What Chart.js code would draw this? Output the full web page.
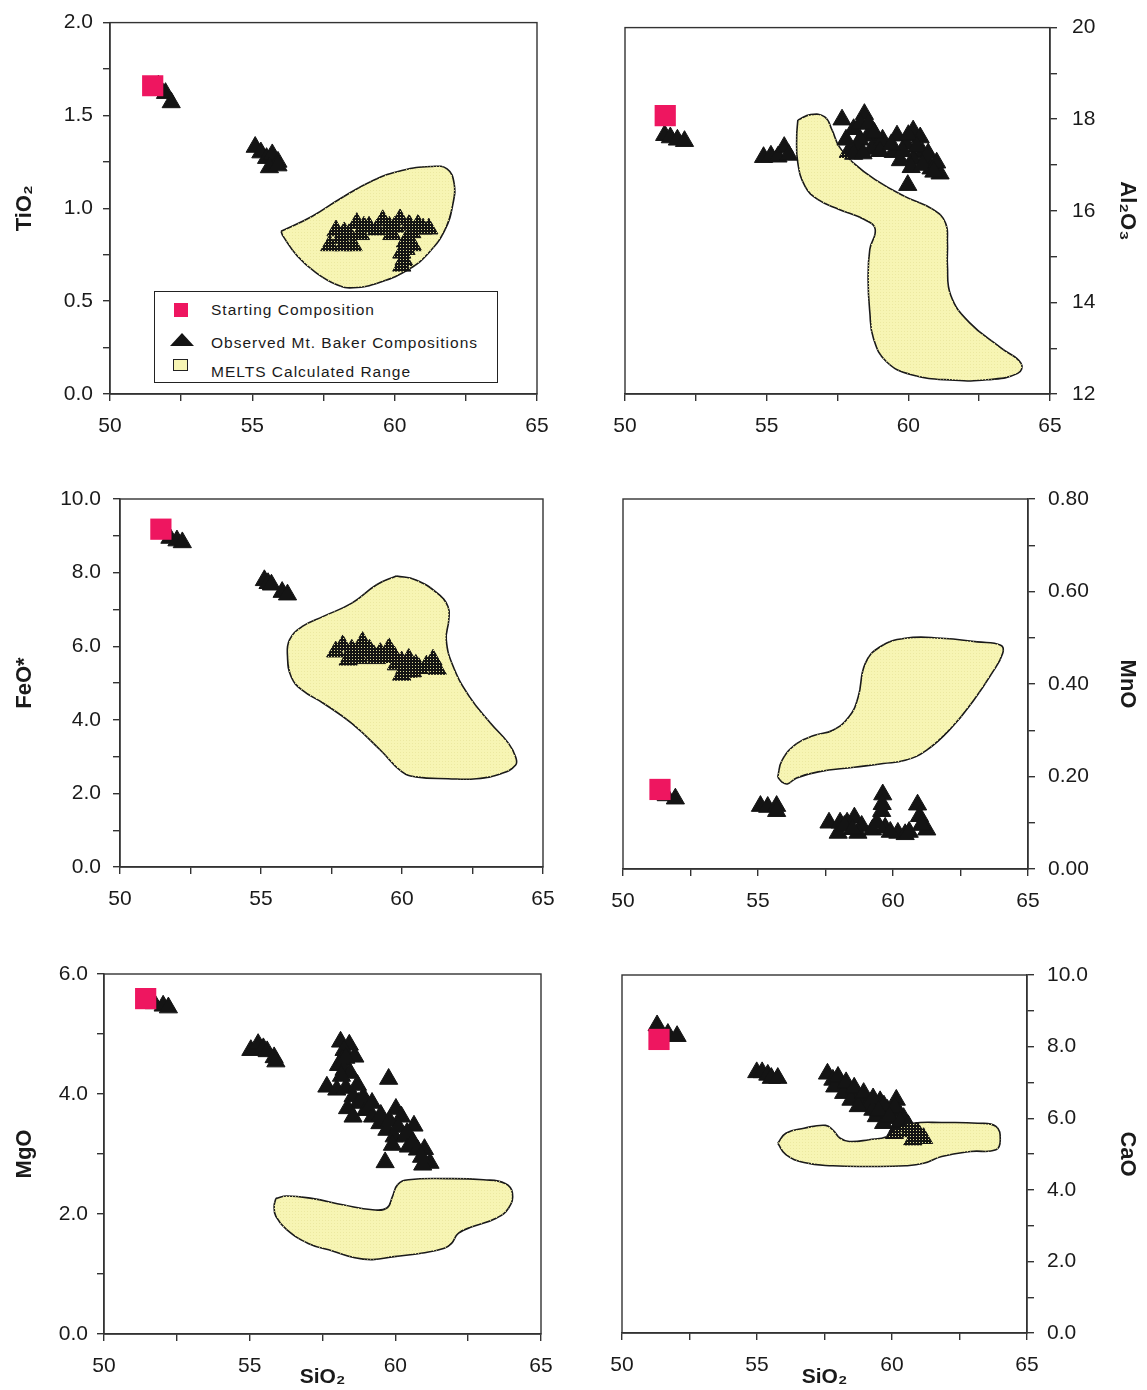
<!DOCTYPE html>
<html>
<head>
<meta charset="utf-8">
<script src="https://cdn.jsdelivr.net/npm/chart.js@4.4.0/dist/chart.umd.min.js"></script>
<style>
  html, body { margin: 0; padding: 0; background: #fff; }
  #page { position: relative; width: 1147px; height: 1390px; overflow: hidden;
          font-family: "Liberation Sans", Arial, sans-serif; color: #1a1a1a; }
  #page canvas { position: absolute; }
  #legend { position: absolute; left: 154px; top: 291px; width: 342px; height: 90px;
            border: 1.6px solid #222; background: #fff; }
  #legend .sym { position: absolute; }
  #legend .txt { position: absolute; left: 56px; font-size: 15.5px; letter-spacing: 1px; line-height: 18px; white-space: nowrap; }
</style>
</head>
<body>
<div id="page">
  <canvas id="tio2"  width="573" height="463" style="left:0;top:0"></canvas>
  <canvas id="al2o3" width="574" height="463" style="left:573px;top:0"></canvas>
  <canvas id="feo"   width="573" height="477" style="left:0;top:463px"></canvas>
  <canvas id="mno"   width="574" height="477" style="left:573px;top:463px"></canvas>
  <canvas id="mgo"   width="573" height="450" style="left:0;top:940px"></canvas>
  <canvas id="cao"   width="574" height="450" style="left:573px;top:940px"></canvas>

  <div id="legend">
    <div class="sym" style="left:19px;top:11px;width:14px;height:14px;background:#ee1660"></div>
    <div class="txt" style="top:9px">Starting Composition</div>
    <div class="sym" style="left:15px;top:41px;width:24px;height:13px;background:#141414;clip-path:polygon(50% 0,100% 100%,0 100%)"></div>
    <div class="txt" style="top:42px">Observed Mt. Baker Compositions</div>
    <div class="sym" style="left:18px;top:67px;width:13px;height:10px;border:1.5px solid #222;background:#f7f5b4"></div>
    <div class="txt" style="top:71px">MELTS Calculated Range</div>
  </div>
</div>

<script>
// SiO2 (wt%) on every x axis
const sio2Min = 50, sio2Max = 65, sio2Step = 2.5;

// TiO2
const tio2Start = [[51.5, 1.66]];
const tio2Observed = [
  [51.7, 1.66], [51.95, 1.62], [52.15, 1.57],
  [55.1, 1.33], [55.3, 1.30], [55.5, 1.27], [55.7, 1.29], [55.9, 1.25], [55.6, 1.22], [55.9, 1.23],
  [57.94, 0.88], [58.23, 0.87], [58.67, 0.92], [58.92, 0.90], [57.72, 0.80], [58.54, 0.80],
  [59.58, 0.935], [59.81, 0.90], [60.19, 0.94], [60.51, 0.91], [60.82, 0.91], [61.2, 0.89],
  [59.37, 0.885], [60.38, 0.82], [60.63, 0.80], [60.25, 0.76], [60.32, 0.72], [60.25, 0.69],
  [58.1, 0.84], [58.4, 0.86], [58.8, 0.86], [59.1, 0.90], [59.9, 0.86], [60.0, 0.90],
  [60.6, 0.87], [61.0, 0.89], [60.4, 0.78], [58.2, 0.80]
];
const tio2Melts = [
  [56.01, 0.876], [57.09, 0.956], [58.10, 1.053], [59.24, 1.150], [60.25, 1.204], [61.27, 1.225],
  [61.84, 1.212], [62.09, 1.133], [62.05, 1.027], [61.77, 0.885], [61.20, 0.761], [60.51, 0.673],
  [59.49, 0.602], [58.54, 0.572], [57.97, 0.588], [57.22, 0.655], [56.58, 0.743], [56.08, 0.850]
];

// Al2O3
const al2o3Start = [[51.42, 18.08]];
const al2o3Observed = [
  [51.4, 17.65], [51.6, 17.6], [51.85, 17.55], [52.1, 17.52],
  [54.89, 17.17], [55.15, 17.2], [55.4, 17.18], [55.62, 17.39], [55.78, 17.22],
  [57.66, 17.99], [58.45, 18.11], [58.07, 17.78], [58.58, 17.64], [58.96, 17.49], [58.2, 17.42],
  [57.88, 17.28], [58.71, 17.35], [59.6, 17.64], [60.17, 17.75], [60.42, 17.6], [59.92, 17.46],
  [59.47, 17.28], [60.49, 17.28], [60.17, 17.13], [59.72, 17.1], [60.68, 17.03], [61.12, 16.81],
  [60.8, 16.92], [59.98, 16.56], [59.09, 17.55], [58.07, 17.24],
  [58.3, 17.9], [58.6, 17.9], [58.3, 17.55], [58.8, 17.7], [59.0, 17.3], [58.4, 17.25],
  [57.8, 17.55], [60.0, 17.65], [60.3, 17.4], [60.7, 17.25], [59.8, 17.3], [60.1, 16.95],
  [60.5, 17.0], [61.0, 17.05], [59.4, 17.45], [60.9, 16.85]
];
const al2o3Melts = [
  [56.10, 17.98], [56.55, 18.10], [57.05, 18.05], [57.31, 17.76], [57.56, 17.40], [58.07, 17.04],
  [58.83, 16.68], [59.85, 16.32], [60.87, 16.03], [61.31, 15.74], [61.38, 15.31], [61.38, 14.80],
  [61.50, 14.15], [62.14, 13.57], [63.28, 13.00], [63.98, 12.67], [63.86, 12.45], [62.77, 12.31],
  [61.63, 12.30], [60.11, 12.42], [59.22, 12.71], [58.77, 13.21], [58.64, 13.79], [58.58, 14.51],
  [58.64, 15.16], [58.83, 15.60], [58.45, 15.81], [57.56, 16.03], [56.80, 16.25], [56.36, 16.53],
  [56.10, 17.04], [56.06, 17.62]
];

// FeO*
const feoStart = [[51.45, 9.18]];
const feoObserved = [
  [51.77, 8.94], [52.02, 8.87], [52.21, 8.82],
  [55.12, 7.79], [55.25, 7.71], [55.37, 7.67], [55.75, 7.47], [55.94, 7.40],
  [57.65, 5.85], [57.9, 6.02], [58.22, 5.90], [58.6, 6.11], [58.85, 5.90], [58.09, 5.63],
  [58.47, 5.67], [59.23, 5.81], [59.54, 5.94], [59.73, 5.72], [59.99, 5.58], [60.24, 5.65],
  [60.49, 5.49], [60.87, 5.47], [61.25, 5.38], [59.99, 5.22], [60.37, 5.31], [59.1, 5.67], [61.1, 5.63],
  [58.3, 5.8], [58.6, 5.85], [59.0, 5.75], [59.4, 5.7], [59.8, 5.5], [60.1, 5.4], [60.6, 5.4], [60.2, 5.3]
];
const feoMelts = [
  [59.80, 7.91], [60.49, 7.80], [61.25, 7.44], [61.63, 7.08], [61.66, 6.72], [61.57, 6.17],
  [61.82, 5.44], [62.39, 4.63], [63.15, 3.90], [63.78, 3.36], [64.03, 2.99], [64.03, 2.77],
  [63.53, 2.54], [62.64, 2.40], [61.63, 2.40], [60.49, 2.45], [59.99, 2.59], [59.23, 3.18],
  [58.22, 3.90], [57.21, 4.45], [56.45, 4.81], [56.07, 5.17], [55.94, 5.72], [56.01, 6.17],
  [56.45, 6.53], [57.21, 6.81], [58.22, 7.17], [59.10, 7.67]
];

// MnO
const mnoStart = [[51.37, 0.172]];
const mnoObserved = [
  [51.6, 0.159], [51.94, 0.152],
  [55.09, 0.136], [55.36, 0.134], [55.69, 0.136], [55.69, 0.125],
  [59.62, 0.161], [59.58, 0.125], [58.57, 0.111], [57.63, 0.100], [58.04, 0.100], [58.3, 0.100],
  [58.84, 0.093], [59.24, 0.085], [59.71, 0.089], [60.18, 0.078], [60.45, 0.075], [60.91, 0.139],
  [60.98, 0.114], [61.25, 0.085], [57.97, 0.078], [58.7, 0.078],
  [58.2, 0.093], [58.5, 0.086], [59.4, 0.10], [59.9, 0.08], [60.6, 0.08], [61.05, 0.095], [59.6, 0.14]
];
const mnoMelts = [
  [55.73, 0.199], [55.89, 0.235], [56.43, 0.271], [57.10, 0.289], [57.77, 0.300], [58.37, 0.329],
  [58.71, 0.372], [58.97, 0.444], [59.51, 0.480], [60.45, 0.499], [61.79, 0.499], [63.12, 0.491],
  [63.99, 0.484], [64.06, 0.466], [63.66, 0.423], [62.99, 0.365], [62.19, 0.307], [61.25, 0.257],
  [60.45, 0.235], [59.64, 0.228], [58.57, 0.220], [57.23, 0.210], [56.43, 0.197], [56.09, 0.184],
  [55.89, 0.188]
];

// MgO
const mgoStart = [[51.43, 5.59]];
const mgoObserved = [
  [51.72, 5.51], [52.03, 5.47], [52.21, 5.44],
  [55.04, 4.73], [55.29, 4.83], [55.47, 4.76], [55.6, 4.71], [55.84, 4.61], [55.9, 4.54],
  [58.12, 4.87], [58.42, 4.82], [58.24, 4.73], [58.61, 4.62], [58.18, 4.57], [58.05, 4.48],
  [58.24, 4.40], [59.77, 4.25], [57.65, 4.12], [57.99, 4.07], [58.3, 4.10], [58.55, 3.96],
  [58.73, 3.85], [58.36, 3.76], [58.98, 3.73], [58.55, 3.62], [59.22, 3.62], [59.47, 3.51],
  [60.02, 3.75], [60.21, 3.62], [59.71, 3.40], [59.96, 3.29], [60.33, 3.29], [60.64, 3.47],
  [60.45, 3.12], [60.76, 3.07], [61.0, 3.08], [61.19, 2.85], [60.94, 2.82], [59.65, 2.86],
  [58.3, 4.6], [58.45, 4.35], [58.7, 4.15], [58.9, 3.95], [59.2, 3.85], [59.5, 3.65],
  [59.8, 3.55], [60.1, 3.45], [60.4, 3.35], [60.6, 3.2], [60.9, 2.95], [58.15, 4.3], [59.9, 3.15]
];
const mgoMelts = [
  [55.90, 2.26], [56.27, 2.30], [57.13, 2.26], [58.24, 2.15], [59.22, 2.07], [59.71, 2.10],
  [59.90, 2.29], [60.08, 2.49], [60.45, 2.57], [61.80, 2.59], [63.03, 2.57], [63.77, 2.51],
  [64.02, 2.35], [63.89, 2.10], [63.46, 1.93], [62.66, 1.79], [62.17, 1.68], [61.93, 1.51],
  [61.68, 1.43], [60.94, 1.35], [59.96, 1.29], [59.22, 1.24], [58.61, 1.27], [57.87, 1.38],
  [57.01, 1.51], [56.27, 1.74], [55.90, 1.96], [55.84, 2.13]
];

// CaO
const caoStart = [[51.37, 8.20]];
const caoObserved = [
  [51.3, 8.59], [51.7, 8.35], [52.04, 8.29],
  [54.99, 7.28], [55.19, 7.28], [55.4, 7.21], [55.53, 7.12], [55.77, 7.12],
  [57.61, 7.24], [57.81, 7.07], [58.08, 6.98], [57.88, 6.88], [58.35, 6.88], [58.21, 6.70],
  [58.62, 6.70], [58.48, 6.51], [58.89, 6.56], [59.09, 6.37], [58.75, 6.33], [59.56, 6.47],
  [59.29, 6.23], [60.16, 6.51], [59.83, 6.23], [60.23, 6.19], [59.42, 6.05], [59.96, 6.00],
  [60.43, 6.00], [59.69, 5.86], [60.23, 5.77], [60.63, 5.63], [60.97, 5.58], [61.17, 5.44],
  [60.77, 5.40], [60.09, 5.58],
  [58.0, 7.15], [58.3, 7.0], [58.6, 6.85], [58.95, 6.7], [59.3, 6.55], [59.7, 6.35],
  [60.1, 6.3], [59.5, 6.2], [59.9, 6.05], [60.3, 5.9], [60.6, 5.8], [60.9, 5.6]
];
const caoMelts = [
  [55.77, 5.30], [56.07, 5.58], [56.74, 5.72], [57.54, 5.80], [57.81, 5.67], [58.08, 5.44],
  [58.42, 5.35], [59.15, 5.40], [59.83, 5.49], [60.23, 5.72], [60.77, 5.86], [61.84, 5.88],
  [63.18, 5.86], [63.85, 5.77], [64.01, 5.40], [63.85, 5.12], [62.91, 5.07], [61.84, 4.93],
  [61.17, 4.74], [60.50, 4.67], [59.15, 4.65], [57.81, 4.67], [56.74, 4.76], [56.07, 4.98]
];

const ink = '#1a1a1a';
const axisColor = '#333';
const pink = '#ee1660';
const yellow = '#f7f5b4';
Chart.defaults.font.family = '"Liberation Sans", Arial, sans-serif';

// box round the plot area
const frame = {
  id: 'frame',
  beforeDatasetsDraw(chart) {
    const {ctx, chartArea: a} = chart;
    ctx.save();
    ctx.strokeStyle = axisColor;
    ctx.lineWidth = 1.4;
    ctx.strokeRect(a.left, a.top, a.right - a.left, a.bottom - a.top);
    ctx.restore();
  }
};

// light dots laid over the markers that sit inside the MELTS field
function stipple(ctx) {
  const c = document.createElement('canvas');
  c.width = 3; c.height = 3;
  const g = c.getContext('2d');
  g.fillStyle = 'rgba(235,232,160,0.95)';
  g.fillRect(1, 1, 1, 1);
  return ctx.createPattern(c, 'repeat');
}

const toXY = arr => arr.map(p => ({x: p[0], y: p[1]}));

function panel(id, o) {
  const ctx = document.getElementById(id).getContext('2d');
  const region = toXY(o.melts.concat([o.melts[0]]));
  const right = o.side === 'right';
  return new Chart(ctx, {
    type: 'scatter',
    data: {
      datasets: [
        {
          label: 'MELTS Calculated Range', data: region, showLine: true, tension: 0.45,
          fill: 'shape', backgroundColor: yellow, borderColor: ink, borderWidth: 1.6,
          pointRadius: 0, order: 3
        },
        {
          label: 'Observed Mt. Baker Compositions', data: toXY(o.observed),
          pointStyle: 'triangle', pointRadius: 10.5, backgroundColor: '#141414',
          borderColor: '#141414', borderWidth: 1, order: 2
        },
        {
          label: 'stipple', data: region, showLine: true, tension: 0.45, fill: 'shape',
          backgroundColor: stipple(ctx), borderColor: 'transparent', borderWidth: 0,
          pointRadius: 0, order: 1
        },
        {
          label: 'Starting Composition', data: toXY(o.start), pointStyle: 'rect',
          pointRadius: 15, backgroundColor: pink, borderWidth: 0, order: 0
        }
      ]
    },
    options: {
      responsive: false,
      animation: false,
      events: [],
      layout: { padding: o.pad },
      plugins: { legend: { display: false }, tooltip: { enabled: false } },
      scales: {
        x: {
          type: 'linear', min: sio2Min, max: sio2Max,
          ticks: {
            stepSize: sio2Step, autoSkip: false, padding: 13, color: ink, font: { size: 21 },
            callback: v => (v % 5 === 0 ? String(v) : '')
          },
          grid: { drawOnChartArea: false, tickLength: 7, color: axisColor, lineWidth: 1.4 },
          border: { color: axisColor, width: 1.4 },
          title: {
            display: !!o.xTitle, text: 'SiO₂', color: ink,
            font: { size: 21, weight: 'bold' }, padding: { top: 0, bottom: 0 }
          },
          afterFit: s => { s.height = o.xh; }
        },
        y: {
          type: 'linear', position: right ? 'right' : 'left', min: o.min, max: o.max,
          ticks: {
            stepSize: o.step, autoSkip: false, padding: o.tickPad, color: ink, font: { size: 21 },
            callback: o.label
          },
          grid: { drawOnChartArea: false, tickLength: 7, color: axisColor, lineWidth: 1.4 },
          border: { color: axisColor, width: 1.4 },
          title: {
            display: true, text: o.title, color: ink, font: { size: 22, weight: 'bold' },
            padding: { top: right ? 7 : 12, bottom: 0 }
          },
          afterFit: s => { s.width = o.yw; }
        }
      }
    },
    plugins: [frame]
  });
}

const everyOther = v => (v % 2 === 0 ? v.toFixed(1) : '');

panel('tio2', {
  start: tio2Start, observed: tio2Observed, melts: tio2Melts,
  title: 'TiO₂', min: 0, max: 2, step: 0.25, tickPad: 10,
  label: v => (Math.round(v * 4) % 2 === 0 ? v.toFixed(1) : ''),
  pad: { left: 0, right: 36, top: 18, bottom: 0 }, yw: 110, xh: 69
});
panel('al2o3', {
  start: al2o3Start, observed: al2o3Observed, melts: al2o3Melts, side: 'right',
  title: 'Al₂O₃', min: 12, max: 20, step: 1, tickPad: 15,
  label: v => (v % 2 === 0 ? String(v) : ''),
  pad: { left: 52, right: 0, top: 22, bottom: 0 }, yw: 97, xh: 69
});
panel('feo', {
  start: feoStart, observed: feoObserved, melts: feoMelts,
  title: 'FeO*', min: 0, max: 10, step: 1, tickPad: 12, label: everyOther,
  pad: { left: 0, right: 30, top: 36, bottom: 0 }, yw: 120, xh: 73
});
panel('mno', {
  start: mnoStart, observed: mnoObserved, melts: mnoMelts, side: 'right',
  title: 'MnO', min: 0, max: 0.8, step: 0.1, tickPad: 13,
  label: v => (Math.round(v * 10) % 2 === 0 ? v.toFixed(2) : ''),
  pad: { left: 50, right: 0, top: 36, bottom: 0 }, yw: 119, xh: 71
});
panel('mgo', {
  start: mgoStart, observed: mgoObserved, melts: mgoMelts, xTitle: true,
  title: 'MgO', min: 0, max: 6, step: 1, tickPad: 9, label: everyOther,
  pad: { left: 0, right: 32, top: 34, bottom: 0 }, yw: 104, xh: 56
});
panel('cao', {
  start: caoStart, observed: caoObserved, melts: caoMelts, side: 'right', xTitle: true,
  title: 'CaO', min: 0, max: 10, step: 1, tickPad: 13, label: everyOther,
  pad: { left: 49, right: 0, top: 35, bottom: 0 }, yw: 120, xh: 57
});
</script>
</body>
</html>
